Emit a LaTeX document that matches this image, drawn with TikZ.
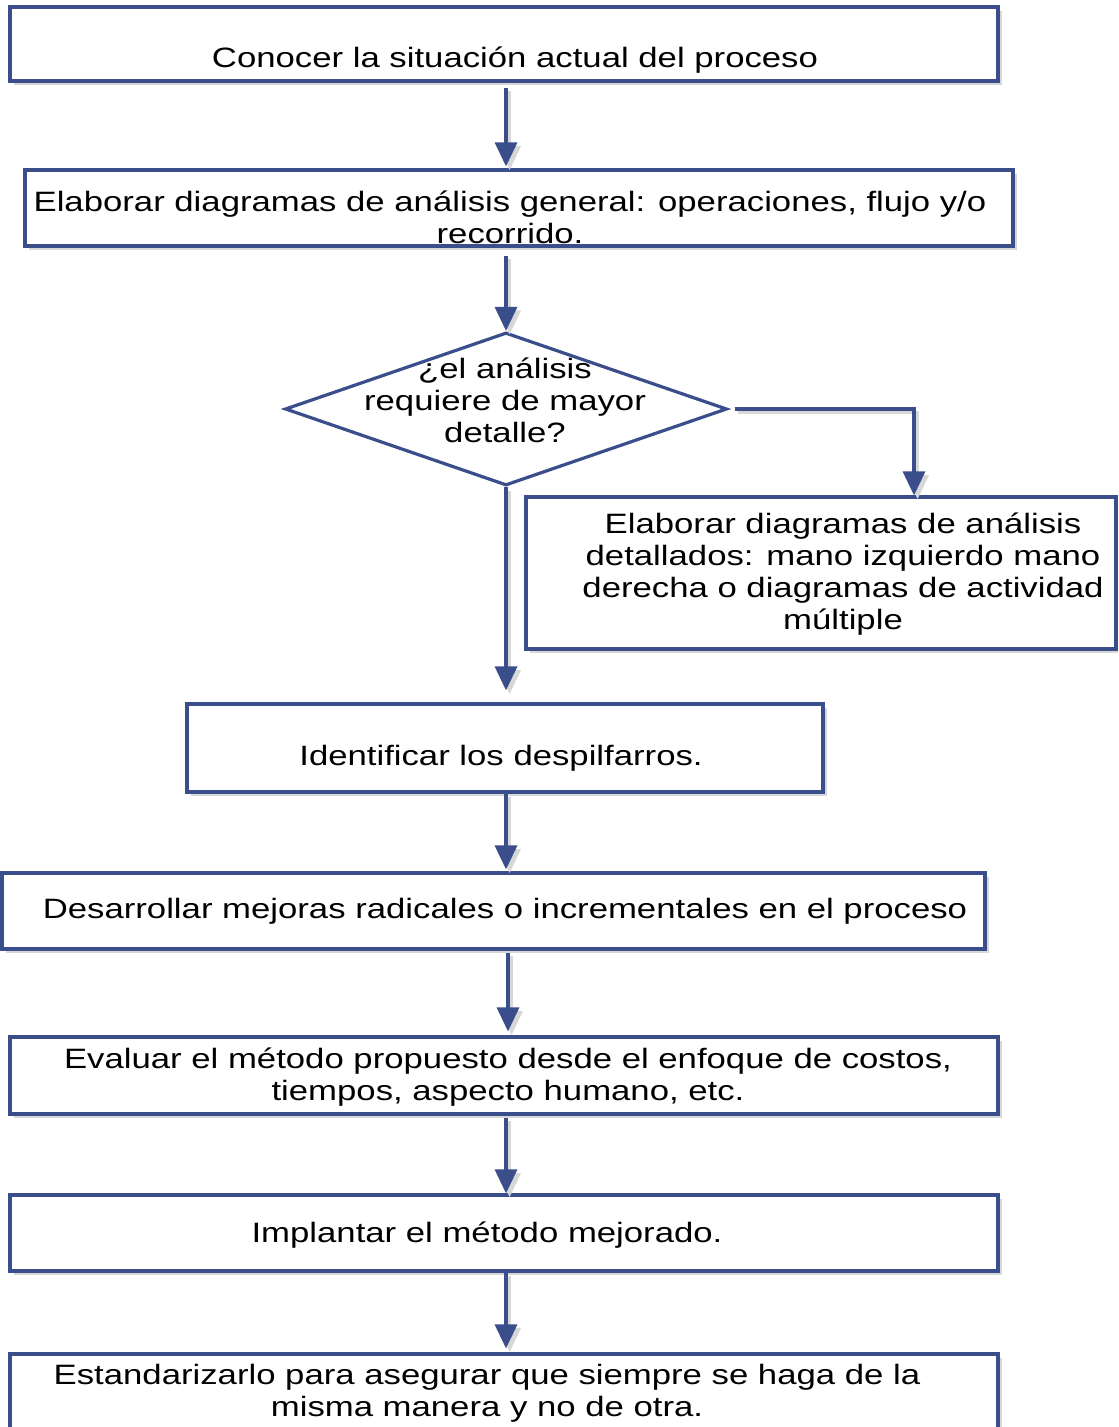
\documentclass[tikz,border=0pt]{standalone}
\usepackage{fontspec}
\setmainfont{Liberation Sans}[FakeStretch=1.24]
\usetikzlibrary{arrows.meta,shapes.geometric,shadows}
\definecolor{flowblue}{RGB}{59,78,140}
\definecolor{shadowgray}{RGB}{215,215,215}
\begin{document}
\begin{tikzpicture}[x=0.5pt,y=-0.5pt,
  box/.style={draw=flowblue,line width=1.6pt,fill=white,inner sep=0pt,
    drop shadow={shadow xshift=1.8pt,shadow yshift=-1.8pt,fill=shadowgray,opacity=1}},
  dia/.style={diamond,draw=flowblue,line width=1.6pt,fill=white,inner sep=0pt,
    minimum width=221pt,minimum height=76.5pt},
  txt/.style={align=center,inner sep=0pt,font=\fontsize{14}{16}\selectfont},
  arr/.style={draw=flowblue,line width=1.7pt,-{Triangle[width=11pt,length=12pt]},
    preaction={draw=shadowgray,line width=1.7pt,-{Triangle[width=11pt,length=12pt]},
      transform canvas={shift={(1.8pt,-1.8pt)}}}}]
\clip (0,0) rectangle (1118,1427);
\useasboundingbox (0,0) rectangle (1118,1427);
\fill[white] (0,0) rectangle (1118,1427);

\node[box,minimum width=494pt,minimum height=37pt] (b1) at (504,44) {};
\node[box,minimum width=494pt,minimum height=38pt] (b2) at (519,208) {};
\node[dia] (d) at (506,409) {};
\node[box,minimum width=295pt,minimum height=76pt] (b3) at (821,573) {};
\node[box,minimum width=318pt,minimum height=44pt] (b4) at (505,748) {};
\node[box,minimum width=491.5pt,minimum height=38pt] (b5) at (493.5,911) {};
\node[box,minimum width=494pt,minimum height=38.5pt] (b6) at (504,1075.5) {};
\node[box,minimum width=494pt,minimum height=38pt] (b7) at (504,1233) {};
\node[box,minimum width=494pt,minimum height=38pt] (b8) at (504,1392) {};

\node[txt] (t1) at (515,60) {Conocer la situación actual del proceso};
\node[txt] (t2) at (510,217) {Elaborar diagramas de análisis general: operaciones, flujo y/o\\recorrido.};
\node[txt] (td) at (505,400) {¿el análisis\\requiere de mayor\\detalle?};
\node[txt] (t3) at (843,574) {Elaborar diagramas de análisis\\detallados: mano izquierdo mano\\derecha o diagramas de actividad\\múltiple};
\node[txt] (t4) at (501,758) {Identificar los despilfarros.};
\node[txt] (t5) at (505,911) {Desarrollar mejoras radicales o incrementales en el proceso};
\node[txt] (t6) at (508,1077) {Evaluar el método propuesto desde el enfoque de costos,\\tiempos, aspecto humano, etc.};
\node[txt] (t7) at (487,1235) {Implantar el método mejorado.};
\node[txt] (t8) at (487,1393) {Estandarizarlo para asegurar que siempre se haga de la\\misma manera y no de otra.};

\coordinate (ax) at (506,0);
\coordinate (ax2) at (508,0);
\coordinate (br) at (914,0);

\draw[arr,shorten <=2.5pt,shorten >=1pt] (b1.south -| ax) -- (b2.north -| ax);
\draw[arr,shorten <=4pt] (b2.south -| ax) -- (d.north);
\draw[arr,shorten >=6pt] (d.south) -- (b4.north -| ax);
\draw[arr] (d.east) ++(3pt,0) -| (b3.north -| br);
\draw[arr,shorten >=1pt] (b4.south -| ax) -- (b5.north -| ax);
\draw[arr,shorten <=1pt,shorten >=2pt] (b5.south -| ax2) -- (b6.north -| ax2);
\draw[arr,shorten <=1pt] (b6.south -| ax) -- (b7.north -| ax);
\draw[arr,shorten >=2pt] (b7.south -| ax) -- (b8.north -| ax);
\end{tikzpicture}
\end{document}
